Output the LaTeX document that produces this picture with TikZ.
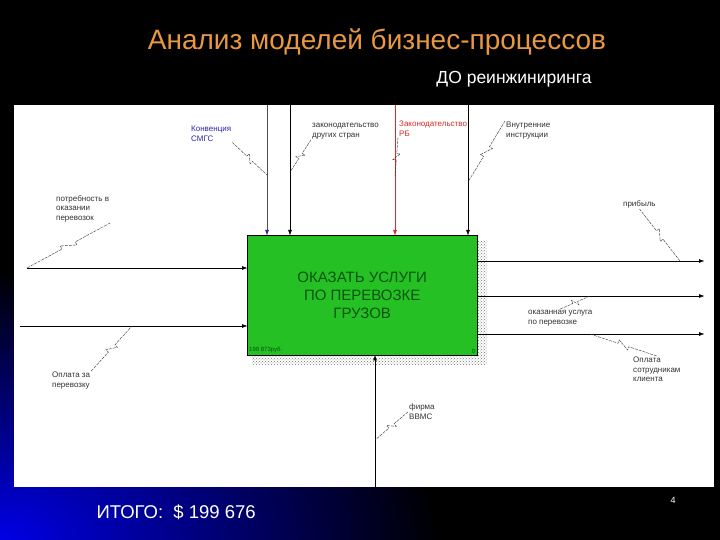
\documentclass[tikz,border=0pt]{standalone}
\usepackage{fontspec}
\setmainfont{Liberation Sans}
\usetikzlibrary{calc,patterns,arrows.meta}

\definecolor{titleorange}{RGB}{232,152,64}
\definecolor{boxgreen}{RGB}{36,192,36}
\definecolor{boxtext}{RGB}{12,84,16}
\definecolor{convblue}{RGB}{40,40,170}
\definecolor{lawred}{RGB}{225,40,40}

% IDEF0 squiggle between a label and its arrow
\newcommand{\squigline}[2]{%
  \path (#1) -- (#2) coordinate[pos=0.42] (sqa) coordinate[pos=0.58] (sqb);
  \draw[squig] (#1) -- (sqa) -- ($(sqa)!3.5pt!90:(#2)$) -- ($(sqb)!3.5pt!-90:(#2)$) -- (sqb) -- (#2);}

\begin{document}
\begin{tikzpicture}[x=1pt, y=-1pt,
    lbl/.style={font=\fontsize{8}{9.5}\selectfont, text=black!80, align=left, inner sep=1pt},
    arr/.style={-{Triangle[length=5pt,width=3.5pt]}, black, thin},
    squig/.style={black!80, dash pattern=on 3pt off 1pt, thin}]

    \useasboundingbox (0,0) rectangle (720,540);
    \fill[black] (0,0) rectangle (720,540);
    \begin{scope}
        \clip (0,0) rectangle (720,540);
        \shade[inner color=blue!90!black, outer color=black] (0,540) ellipse (440 and 270);
    \end{scope}

    \node[text=titleorange, font=\fontsize{28}{32}\selectfont] (title) at (377,42) {Анализ моделей бизнес-процессов};
    \node[white, font=\fontsize{17.5}{20}\selectfont] (sub) at (514,79) {ДО реинжиниринга};

    \fill[white] (14,105) rectangle (714,487);

    % shadow and activity box
    \fill[pattern=crosshatch dots, pattern color=black!55] (477,240) rectangle (487,365) (252,355) rectangle (477,365);
    \node[draw=black, fill=boxgreen, inner sep=0pt, minimum width=230, minimum height=120, anchor=north west] (box) at (247,235) {};
    \node[text=boxtext, font=\fontsize{15}{18}\selectfont, align=center] (name) at (box.center) {ОКАЗАТЬ УСЛУГИ\\ПО ПЕРЕВОЗКЕ\\ГРУЗОВ};
    \node[font=\fontsize{6}{7}\selectfont, text=boxtext, anchor=south west, inner sep=2pt] (cost) at (box.south west) {199 873руб.};
    \node[font=\fontsize{6}{7}\selectfont, text=boxtext, anchor=south east, inner sep=2pt] (num) at (box.south east) {0};

    % controls
    \coordinate (c1) at (267,105);
    \coordinate (c2) at (290,105);
    \coordinate (c3) at (395,105);
    \coordinate (c4) at (468,105);
    \draw[black!70, thin, -{Triangle[length=5pt,width=3.5pt,color=convblue]}] (c1) -- (c1 |- box.north);
    \draw[arr] (c2) -- (c2 |- box.north);
    \draw[arr, lawred] (c3) -- (c3 |- box.north);
    \draw[arr] (c4) -- (c4 |- box.north);

    \node[lbl, text=convblue, anchor=north west] (lconv) at (190,125) {Конвенция\\СМГС};
    \node[lbl, anchor=north west] (lforeign) at (311,122) {законодательство\\других стран};
    \node[lbl, text=lawred, anchor=north west] (llaw) at (398,120) {Законодательство\\РБ};
    \node[lbl, anchor=north west] (linstr) at (505,121) {Внутренние\\инструкции};

    \coordinate (kconv) at (267,175);
    \coordinate (kforeign) at (290,172);
    \coordinate (klaw) at (395,176);
    \coordinate (kinstr) at (468,182);
    \squigline{lconv.south east}{kconv}
    \squigline{lforeign.south west}{kforeign}
    \squigline{llaw.south west}{klaw}
    \squigline{linstr.north west}{kinstr}

    % inputs
    \coordinate (in1) at (27,268);
    \coordinate (in2) at (20,326);
    \draw[arr] (in1) -- (in1 -| box.west);
    \draw[arr] (in2) -- (in2 -| box.west);

    \node[lbl, anchor=north west] (lneed) at (55,194) {потребность в\\оказании\\перевозок};
    \node[lbl, anchor=north west] (lpay) at (51,371) {Оплата за\\перевозку};
    \coordinate (kpay) at (132,326);
    \squigline{lneed.south east}{in1}
    \squigline{lpay.north east}{kpay}

    % outputs
    \coordinate (out1) at (704,261);
    \coordinate (out2) at (704,296);
    \coordinate (out3) at (704,334);
    \draw[arr] (out1 -| box.east) -- (out1);
    \draw[arr] (out2 -| box.east) -- (out2);
    \draw[arr] (out3 -| box.east) -- (out3);

    \node[lbl, anchor=north west] (lprofit) at (622,199) {прибыль};
    \node[lbl, anchor=north west] (lservice) at (527,309) {оказанная услуга\\по перевозке};
    \node[lbl, anchor=north west] (lstaff) at (632,356) {Оплата\\сотрудникам\\клиента};
    \coordinate (kprofit) at (680,261);
    \coordinate (kservice) at (590,296);
    \coordinate (kstaff) at (590,334);
    \squigline{lprofit.south}{kprofit}
    \squigline{lservice.north}{kservice}
    \squigline{lstaff.north}{kstaff}

    % mechanism
    \coordinate (mech) at (375,487);
    \draw[arr] (mech) -- (mech |- box.south);
    \node[lbl, anchor=north west] (lfirm) at (408,403) {фирма\\ВВМС};
    \coordinate (kfirm) at (375,440);
    \squigline{lfirm.west}{kfirm}

    \node[white, font=\fontsize{18.5}{21}\selectfont, anchor=west] (total) at (93,512) {ИТОГО:\ \ \$ 199 676};
    \node[white, font=\fontsize{9}{10}\selectfont] (page) at (673,500) {4};

\end{tikzpicture}
\end{document}
